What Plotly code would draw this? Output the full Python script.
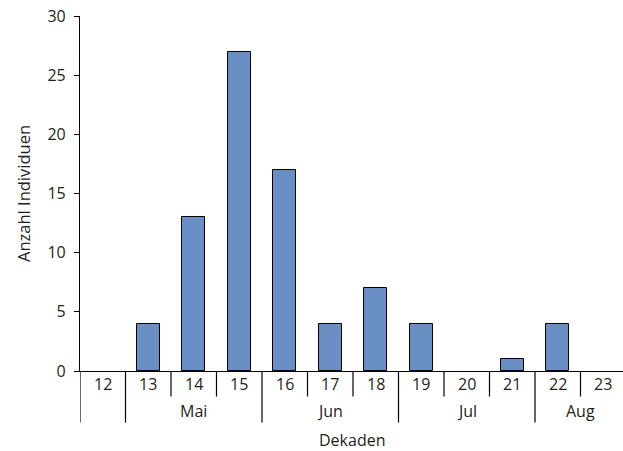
import plotly.graph_objects as go

# ---- data ----
dekaden = [12, 13, 14, 15, 16, 17, 18, 19, 20, 21, 22, 23]
individuen = [0, 4, 13, 27, 17, 4, 7, 4, 0, 1, 4, 0]
monate = ["Mai", "Jun", "Jul", "Aug"]
monat_erste_dekade = [13, 16, 19, 22]
monat_letzte_dekade = [15, 18, 21, 23]
y_ticks = [0, 5, 10, 15, 20, 25, 30]

FONT = "Open Sans"
TXT = "#231f20"
FS = 16
W, H = 623, 451
ML, MR, MT, MB = 80, 0, 16, 80
plot_h = H - MT - MB
cell_px = 45.5
x0 = dekaden[0] - 0.5
x1 = x0 + (W - ML - MR) / cell_px


def py(px_below):
    """paper y for a pixel offset below the x axis line"""
    return -px_below / plot_h


fig = go.Figure()
fig.add_trace(go.Bar(
    x=dekaden, y=individuen, width=0.5,
    marker=dict(color="#6A8FC5",
                line=dict(color="black",
                          width=[1 if v > 0 else 0 for v in individuen])),
    showlegend=False, hoverinfo="x+y",
))

shapes = []
annotations = []
# boundary lines below the axis
month_bounds = set([dekaden[0] - 0.5] + [m - 0.5 for m in monat_erste_dekade])
for d in dekaden:
    b = d - 0.5
    long_line = b in month_bounds
    shapes.append(dict(
        type="line", xref="x", yref="paper", x0=b, x1=b,
        y0=0, y1=py(51.5 if long_line else 25.5),
        line=dict(color="black", width=1.2),
    ))
    annotations.append(dict(
        x=d, y=py(12.5), xref="x", yref="paper", text=str(d),
        showarrow=False, xanchor="center", yanchor="middle",
        font=dict(family=FONT, size=FS, color=TXT),
    ))

for name, a, b in zip(monate, monat_erste_dekade, monat_letzte_dekade):
    annotations.append(dict(
        x=(a + b) / 2, y=py(39.5), xref="x", yref="paper", text=name,
        showarrow=False, xanchor="center", yanchor="middle",
        font=dict(family=FONT, size=FS, color=TXT),
    ))

annotations.append(dict(
    x=0.5, y=py(68.5), xref="paper", yref="paper", text="Dekaden",
    showarrow=False, xanchor="center", yanchor="middle",
    font=dict(family=FONT, size=FS, color=TXT),
))

fig.update_layout(
    width=W, height=H,
    margin=dict(l=ML, r=MR, t=MT, b=MB, pad=0),
    plot_bgcolor="white", paper_bgcolor="white",
    font=dict(family=FONT, size=FS, color=TXT),
    shapes=shapes, annotations=annotations,
    bargap=0,
)
fig.update_xaxes(
    range=[x0, x1], showticklabels=False, ticks="", showgrid=False,
    zeroline=False, showline=True, linecolor="black", linewidth=1.2,
)
fig.update_yaxes(
    range=[0, 30], tickvals=y_ticks, ticks="outside", ticklen=5,
    tickcolor="black", tickwidth=1.2, showgrid=False, zeroline=False,
    showline=True, linecolor="black", linewidth=1.2,
    ticklabelstandoff=5,
    title=dict(text="Anzahl Individuen", standoff=12,
               font=dict(family=FONT, size=16.5, color=TXT)),
    tickfont=dict(family=FONT, size=FS, color=TXT),
)

fig.write_html("out.html",
               config={"displayModeBar": False},
               post_script="document.body.style.margin='0';document.body.style.padding='0';")
